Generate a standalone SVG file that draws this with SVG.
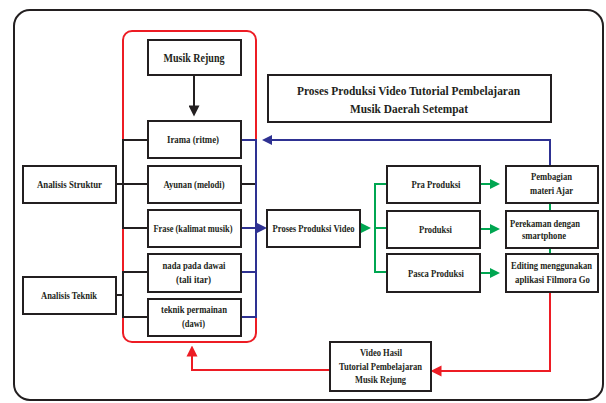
<svg xmlns="http://www.w3.org/2000/svg" width="606" height="403" viewBox="0 0 606 403">
<style>
.box{fill:#fff;stroke:#231f20;stroke-width:2}
.t{font-family:"Liberation Serif","Times New Roman",serif;font-weight:bold;font-size:10px;fill:#231f20;text-anchor:middle}
.big{font-size:11.5px}
.title{font-size:13.5px}
.k{fill:none;stroke:#231f20;stroke-width:2}
.b{fill:none;stroke:#2e3192;stroke-width:2}
.g{fill:none;stroke:#00a651;stroke-width:2}
.r{fill:none;stroke:#ed1c24;stroke-width:2}
</style>
<defs>
<marker id="ab" viewBox="0 0 10 10" refX="5" refY="5" markerWidth="10" markerHeight="10" markerUnits="userSpaceOnUse" orient="auto"><path d="M0,0L10,5L0,10z" fill="#2e3192"/></marker>
<marker id="ag" viewBox="0 0 10 10" refX="5" refY="5" markerWidth="10" markerHeight="11" markerUnits="userSpaceOnUse" orient="auto"><path d="M0,0L10,5L0,10z" fill="#00a651"/></marker>
<marker id="ar" viewBox="0 0 10 10" refX="5" refY="5" markerWidth="11" markerHeight="12" markerUnits="userSpaceOnUse" orient="auto"><path d="M0,0L10,5L0,10z" fill="#ed1c24"/></marker>
<marker id="ak" viewBox="0 0 10 10" refX="5" refY="5" markerWidth="13" markerHeight="11" markerUnits="userSpaceOnUse" orient="auto"><path d="M0,0L10,5L0,10z" fill="#231f20"/></marker>
</defs>
<rect x="14" y="10" width="589" height="390" rx="16" fill="#fff" stroke="#231f20" stroke-width="2"/>
<rect x="123" y="31" width="133" height="311" rx="9" class="r"/>
<g id="connectors">
<path class="k" d="M194,75V111" marker-end="url(#ak)"/>
<path class="k" d="M148,140H123V228H148M116,184H148"/>
<path class="k" d="M148,272H123V317H148M116,295H123"/>
<path class="k" d="M241,184H256"/>
<path class="b" d="M241,140H256V317H241M241,272H256"/>
<path class="b" d="M241,228H262" marker-end="url(#ab)"/>
<path class="b" d="M550,166V140H267" marker-end="url(#ab)"/>
<path class="g" d="M360,228H366" marker-end="url(#ag)"/>
<path class="g" d="M387,184H375V272H387M375,228H387"/>
<path class="g" d="M480,184H495" marker-end="url(#ag)"/>
<path class="g" d="M480,229H495" marker-end="url(#ag)"/>
<path class="g" d="M480,273H495" marker-end="url(#ag)"/>
<path class="g" d="M550,203V211M550,248V254"/>
<path class="r" d="M550,292V371H436" marker-end="url(#ar)"/>
<path class="r" d="M330,370H192V351" marker-end="url(#ar)"/>
</g>
<g id="musik-rejung"><rect class="box" x="148" y="40" width="93" height="35"/><text class="t big" x="194" y="61.5" textLength="61" lengthAdjust="spacingAndGlyphs">Musik Rejung</text></g>
<g id="irama"><rect class="box" x="148" y="121" width="93" height="37"/><text class="t" x="193" y="143" textLength="52" lengthAdjust="spacingAndGlyphs">Irama (ritme)</text></g>
<g id="ayunan"><rect class="box" x="148" y="166" width="93" height="37"/><text class="t" x="194" y="188" textLength="61" lengthAdjust="spacingAndGlyphs">Ayunan (melodi)</text></g>
<g id="frase"><rect class="box" x="148" y="210" width="93" height="37"/><text class="t" x="193" y="232" textLength="79" lengthAdjust="spacingAndGlyphs">Frase (kalimat musik)</text></g>
<g id="nada"><rect class="box" x="148" y="254" width="93" height="38"/><text class="t" x="194" y="268.5" textLength="63" lengthAdjust="spacingAndGlyphs">nada pada dawai</text><text class="t" x="193.5" y="282.5" textLength="35" lengthAdjust="spacingAndGlyphs">(tali itar)</text></g>
<g id="teknik"><rect class="box" x="148" y="299" width="93" height="37"/><text class="t" x="194" y="312.5" textLength="66" lengthAdjust="spacingAndGlyphs">teknik permainan</text><text class="t" x="193.5" y="326.5" textLength="23" lengthAdjust="spacingAndGlyphs">(dawi)</text></g>
<g id="analisis-struktur"><rect class="box" x="23" y="166" width="93" height="37"/><text class="t" x="69.5" y="188" textLength="65" lengthAdjust="spacingAndGlyphs">Analisis Struktur</text></g>
<g id="analisis-teknik"><rect class="box" x="23" y="277" width="93" height="37"/><text class="t" x="69" y="299" textLength="56" lengthAdjust="spacingAndGlyphs">Analisis Teknik</text></g>
<g id="title"><rect class="box" x="268" y="75" width="283" height="47"/><text class="t title" x="408.5" y="95" textLength="223" lengthAdjust="spacingAndGlyphs">Proses Produksi Video Tutorial Pembelajaran</text><text class="t title" x="409" y="113" textLength="118" lengthAdjust="spacingAndGlyphs">Musik Daerah Setempat</text></g>
<g id="proses-produksi-video"><rect class="box" x="267" y="210" width="93" height="37"/><text class="t" x="313.5" y="232" textLength="82" lengthAdjust="spacingAndGlyphs">Proses Produksi Video</text></g>
<g id="pra-produksi"><rect class="box" x="387" y="166" width="93" height="37"/><text class="t" x="436" y="188" textLength="49" lengthAdjust="spacingAndGlyphs">Pra Produksi</text></g>
<g id="produksi"><rect class="box" x="387" y="211" width="93" height="37"/><text class="t" x="435.5" y="233" textLength="33" lengthAdjust="spacingAndGlyphs">Produksi</text></g>
<g id="pasca-produksi"><rect class="box" x="387" y="254" width="93" height="38"/><text class="t" x="436" y="276.5" textLength="56" lengthAdjust="spacingAndGlyphs">Pasca Produksi</text></g>
<g id="pembagian"><rect class="box" x="506" y="166" width="92" height="37"/><text class="t" x="551.5" y="179.5" textLength="41" lengthAdjust="spacingAndGlyphs">Pembagian</text><text class="t" x="551.5" y="193.5" textLength="43" lengthAdjust="spacingAndGlyphs">materi Ajar</text></g>
<g id="perekaman"><rect class="box" x="506" y="211" width="92" height="37"/><text class="t" x="545" y="226.5" textLength="70" lengthAdjust="spacingAndGlyphs">Perekaman dengan</text><text class="t" x="544" y="239" textLength="44" lengthAdjust="spacingAndGlyphs">smartphone</text></g>
<g id="editing"><rect class="box" x="506" y="254" width="92" height="38"/><text class="t" x="551.5" y="268.5" textLength="81" lengthAdjust="spacingAndGlyphs">Editing menggunakan</text><text class="t" x="552.5" y="282.5" textLength="75" lengthAdjust="spacingAndGlyphs">aplikasi Filmora Go</text></g>
<g id="video-hasil"><rect class="box" x="330" y="342" width="101" height="49"/><text class="t" x="381" y="356" textLength="42" lengthAdjust="spacingAndGlyphs">Video Hasil</text><text class="t" x="380.5" y="369.5" textLength="83" lengthAdjust="spacingAndGlyphs">Tutorial Pembelajaran</text><text class="t" x="380.5" y="383" textLength="51" lengthAdjust="spacingAndGlyphs">Musik Rejung</text></g>
</svg>
